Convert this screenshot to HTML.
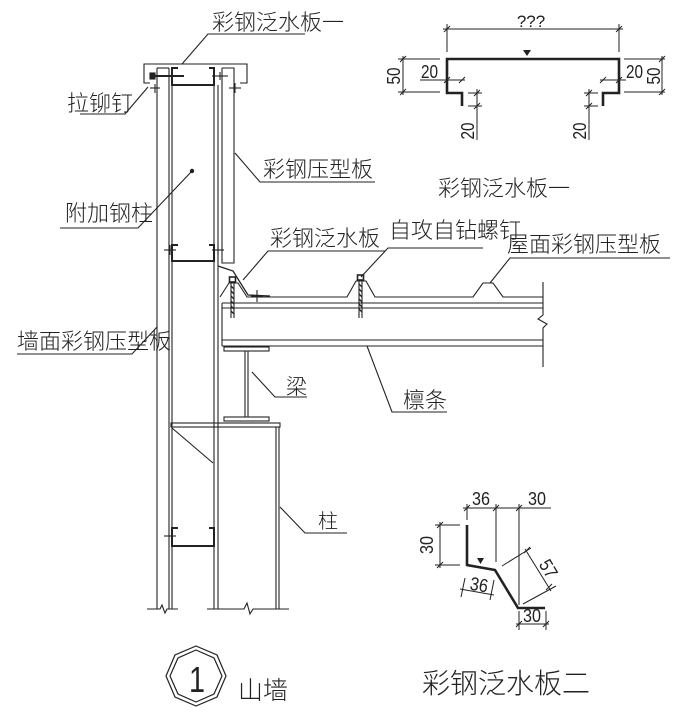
<!DOCTYPE html>
<html><head><meta charset="utf-8">
<style>
html,body{margin:0;padding:0;background:#fff;}
svg{display:block;}
.t{font-family:"Liberation Sans","Noto Sans CJK SC",sans-serif;fill:#222;font-weight:300;}
.d{font-family:"Liberation Sans",sans-serif;fill:#222;font-size:17px;}
</style></head>
<body>
<svg width="678" height="717" viewBox="0 0 678 717" xmlns="http://www.w3.org/2000/svg">
<rect width="678" height="717" fill="#fff"/>
<g stroke="#222" stroke-width="1.1" fill="none">
  <!-- cap flashing 1 -->
  <polyline points="150,83 144,83 144,64 247,64 247,83 240,83"/>
  <!-- rivet -->
  <line x1="152" y1="76" x2="184" y2="76" stroke-width="2"/>
  <rect x="150" y="73" width="5" height="6" fill="#222"/>
  <line x1="150" y1="88" x2="160" y2="88"/><line x1="155" y1="84" x2="155" y2="93"/>
  <line x1="229" y1="88" x2="241" y2="88"/><line x1="235" y1="83" x2="235" y2="93"/>
  <line x1="212" y1="76" x2="228" y2="76"/><line x1="220" y1="72" x2="220" y2="80"/>
  <!-- left wall panel -->
  <line x1="157" y1="68" x2="157" y2="609"/>
  <line x1="169" y1="68" x2="169" y2="609"/>
  <line x1="172" y1="68" x2="172" y2="609"/>
  <line x1="157" y1="68" x2="169" y2="68"/>
  <!-- column lines -->
  <line x1="214" y1="68" x2="214" y2="609"/>
  <line x1="218" y1="85" x2="218" y2="609"/>
  <!-- inner panel -->
  <polyline points="222,68 222,263 234,263 234,68 222,68"/>
  <!-- flashing 2 -->
  <polyline points="218,266 233,271 248,295 270,296" stroke-width="1.3"/>
  <!-- C sections -->
  <g stroke-width="2">
    <polyline points="178,68 172,68 172,85 214,85 214,68 209,68"/>
    <polyline points="178,245 172,245 172,261 214,261 214,245 209,245"/>
    <polyline points="178,528 172,528 172,546 214,546 214,528 209,528"/>
  </g>
  <line x1="164" y1="250" x2="176" y2="250"/><line x1="170" y1="245" x2="170" y2="255"/>
  <line x1="212" y1="250" x2="224" y2="250"/><line x1="218" y1="245" x2="218" y2="255"/>
  <line x1="164" y1="536" x2="176" y2="536"/>
  <!-- roof sheet -->
  <polyline points="220,297 229,283 238,283 247,297 347,297 356,281 366,281 375,297 473,297 483,283 493,283 503,297 543,297"/>
  <line x1="251" y1="296" x2="263" y2="296"/><line x1="257" y1="290" x2="257" y2="302"/>
  <!-- purlin -->
  <line x1="222" y1="303" x2="543" y2="303"/>
  <line x1="222" y1="308" x2="543" y2="308"/>
  <line x1="222" y1="340" x2="543" y2="340"/>
  <line x1="222" y1="346" x2="543" y2="346"/>
  <line x1="222" y1="303" x2="222" y2="346"/>
  <!-- right break -->
  <polyline points="543,282 543,315 538,319 547,324 543,328 543,367"/>
  <!-- I beam -->
  <rect x="224" y="347" width="45" height="4"/>
  <line x1="245" y1="351" x2="245" y2="417"/>
  <line x1="248" y1="351" x2="248" y2="417"/>
  <rect x="224" y="417" width="45" height="4"/>
  <!-- cap plate & column -->
  <rect x="171" y="423" width="109" height="4"/>
  <line x1="276" y1="427" x2="276" y2="609"/>
  <line x1="279" y1="427" x2="279" y2="609"/>
  <line x1="172" y1="428" x2="213" y2="463"/>
  <!-- bottom breaks -->
  <polyline points="147,609 160,609 162,605 165,613 167,609 178,609"/>
  <polyline points="207,609 244,609 247,603 250,614 253,609 289,609"/>
  <!-- screws -->
  <g>
    <rect x="229.5" y="277" width="6" height="5" stroke-width="1.6"/>
    <line x1="231" y1="282" x2="231" y2="318"/><line x1="234" y1="282" x2="234" y2="318"/>
    <path d="M231,286 L234,289 M231,291 L234,294 M231,296 L234,299 M231,301 L234,304 M231,306 L234,309 M231,311 L234,314" stroke-width="1.3"/>
    <rect x="357.5" y="275" width="6" height="5" stroke-width="1.6"/>
    <line x1="359" y1="280" x2="359" y2="318"/><line x1="362" y1="280" x2="362" y2="318"/>
    <path d="M359,284 L362,287 M359,289 L362,292 M359,294 L362,297 M359,299 L362,302 M359,304 L362,307 M359,309 L362,312" stroke-width="1.3"/>
  </g>
  <!-- leaders -->
  <polyline points="182,64 208,34 305,34"/>
  <polyline points="148,87 125,114 80,114"/>
  <polyline points="235,153 260,182 375,182"/>
  <polyline points="192,171 138,228 60,228"/>
  <polyline points="243,280 268,251 385,251"/>
  <polyline points="361,277 388,248 483,248"/>
  <polyline points="490,283 510,258 670,258"/>
  <polyline points="157,327 132,354 17,354"/>
  <polyline points="252,372 275,397 307,397"/>
  <polyline points="367,346 392,412 447,412"/>
  <polyline points="280,507 305,533 347,533"/>
</g>
<circle cx="192" cy="171" r="2.2" fill="#222"/>

<!-- Labels -->
<g class="t" font-size="22">
  <text x="212" y="30">彩钢泛水板一</text>
  <text x="67" y="111">拉铆钉</text>
  <text x="263" y="177">彩钢压型板</text>
  <text x="65" y="221">附加钢柱</text>
  <text x="270" y="246">彩钢泛水板</text>
  <text x="389" y="238">自攻自钻螺钉</text>
  <text x="507" y="252">屋面彩钢压型板</text>
  <text x="17" y="349">墙面彩钢压型板</text>
  <text x="286" y="394" font-size="21">梁</text>
  <text x="403" y="408">檩条</text>
  <text x="318" y="528" font-size="20">柱</text>
  <text x="438" y="196">彩钢泛水板一</text>
  <text x="422" y="693" font-size="28">彩钢泛水板二</text>
  <text x="238" y="699" font-size="25">山墙</text>
</g>

<!-- octagon symbol -->
<g stroke="#222" stroke-width="1.2" fill="none">
  <polygon points="196,646 217,655 226,676 217,697 196,706 175,697 166,676 175,655"/>
  <polygon points="196,650 214,658 222,676 214,694 196,702 178,694 170,676 178,658"/>
</g>
<text transform="translate(197,692) scale(0.8,1)" font-family="Liberation Sans, sans-serif" font-size="36" text-anchor="middle" fill="#222" font-weight="300">1</text>

<!-- Detail 1 -->
<g stroke="#222" stroke-width="1" fill="none">
  <line x1="443" y1="29" x2="623" y2="29"/>
  <line x1="447" y1="24" x2="447" y2="52"/><line x1="619" y1="24" x2="619" y2="52"/>
  <line x1="444" y1="32" x2="450" y2="26"/><line x1="616" y1="32" x2="622" y2="26"/>
  <polyline points="462,106 462,93 447,93 447,59 619,59 619,93 603,93 603,106" stroke-width="2.6"/>
  <!-- left 50 -->
  <line x1="398" y1="59" x2="440" y2="59"/><line x1="398" y1="92" x2="440" y2="92"/>
  <line x1="403" y1="56" x2="403" y2="95"/>
  <line x1="400" y1="62" x2="406" y2="56"/><line x1="400" y1="95" x2="406" y2="89"/>
  <!-- left 20 h -->
  <line x1="420" y1="80" x2="465" y2="80"/>
  <line x1="444" y1="83" x2="450" y2="77"/><line x1="459" y1="83" x2="465" y2="77"/>
  <!-- right 20 h -->
  <line x1="600" y1="80" x2="626" y2="80"/>
  <line x1="600" y1="83" x2="606" y2="77"/><line x1="616" y1="83" x2="622" y2="77"/>
  <!-- right 50 -->
  <line x1="624" y1="59" x2="665" y2="59"/><line x1="624" y1="92" x2="665" y2="92"/>
  <line x1="662" y1="56" x2="662" y2="95"/>
  <line x1="659" y1="62" x2="665" y2="56"/><line x1="659" y1="95" x2="665" y2="89"/>
  <!-- left 20 v -->
  <line x1="477" y1="89" x2="477" y2="140"/>
  <line x1="468" y1="93" x2="482" y2="93"/><line x1="468" y1="106" x2="482" y2="106"/>
  <line x1="474" y1="96" x2="480" y2="90"/><line x1="474" y1="109" x2="480" y2="103"/>
  <!-- right 20 v -->
  <line x1="589" y1="89" x2="589" y2="140"/>
  <line x1="584" y1="93" x2="598" y2="93"/><line x1="584" y1="106" x2="598" y2="106"/>
  <line x1="586" y1="96" x2="592" y2="90"/><line x1="586" y1="109" x2="592" y2="103"/>
</g>
<polygon points="523,50 531,50 527,56" fill="#222"/>
<g class="d">
  <text x="531" y="27" text-anchor="middle">???</text>
  <text transform="translate(421,78) scale(0.9,1.1)">20</text>
  <text transform="translate(626,78) scale(0.9,1.1)">20</text>
  <text transform="translate(400,76) rotate(-90) scale(0.9,1.1)" text-anchor="middle">50</text>
  <text transform="translate(660,76) rotate(-90) scale(0.9,1.1)" text-anchor="middle">50</text>
  <text transform="translate(474,131) rotate(-90) scale(0.9,1.1)" text-anchor="middle">20</text>
  <text transform="translate(586,131) rotate(-90) scale(0.9,1.1)" text-anchor="middle">20</text>
</g>

<!-- Detail 2 -->
<g stroke="#222" stroke-width="1" fill="none">
  <polyline points="467,525 467,565 495,570 518,608 545,608" stroke-width="2.6"/>
  <line x1="463" y1="508" x2="551" y2="508"/>
  <line x1="467" y1="504" x2="467" y2="520"/>
  <line x1="496" y1="504" x2="496" y2="562"/>
  <line x1="519" y1="504" x2="519" y2="605"/>
  <line x1="464" y1="511" x2="470" y2="505"/><line x1="493" y1="511" x2="499" y2="505"/><line x1="516" y1="511" x2="522" y2="505"/>
  <!-- left 30 -->
  <line x1="435" y1="525" x2="460" y2="525"/><line x1="435" y1="565" x2="460" y2="565"/>
  <line x1="440" y1="522" x2="440" y2="568"/>
  <line x1="437" y1="528" x2="443" y2="522"/><line x1="437" y1="568" x2="443" y2="562"/>
  <!-- slanted 36 -->
  <line x1="460" y1="589" x2="494" y2="595"/>
  <line x1="465" y1="578" x2="461" y2="597"/><line x1="494" y1="580" x2="490" y2="600"/>
  <!-- 57 -->
  <line x1="525" y1="549" x2="551" y2="591"/>
  <line x1="502" y1="566" x2="531" y2="548"/><line x1="523" y1="604" x2="556" y2="586"/>
  <line x1="524" y1="553" x2="530" y2="547"/><line x1="546" y1="590" x2="552" y2="584"/>
  <!-- bottom 30 -->
  <line x1="516" y1="624" x2="549" y2="624"/>
  <line x1="519" y1="611" x2="519" y2="630"/><line x1="546" y1="611" x2="546" y2="630"/>
  <line x1="516" y1="627" x2="522" y2="621"/><line x1="543" y1="627" x2="549" y2="621"/>
</g>
<polygon points="477,558 484,558 480.5,564" fill="#222"/>
<g class="d">
  <text transform="translate(472,505) scale(0.95,1.1)">36</text>
  <text transform="translate(528,505) scale(0.95,1.1)">30</text>
  <text transform="translate(433,545) rotate(-90) scale(0.95,1.1)" text-anchor="middle">30</text>
  <text transform="translate(478,591) rotate(10) scale(0.95,1.1)" text-anchor="middle">36</text>
  <text transform="translate(543,572) rotate(59) scale(0.95,1.1)" text-anchor="middle">57</text>
  <text transform="translate(532,622) scale(0.95,1.1)" text-anchor="middle">30</text>
</g>
</svg>
</body></html>
